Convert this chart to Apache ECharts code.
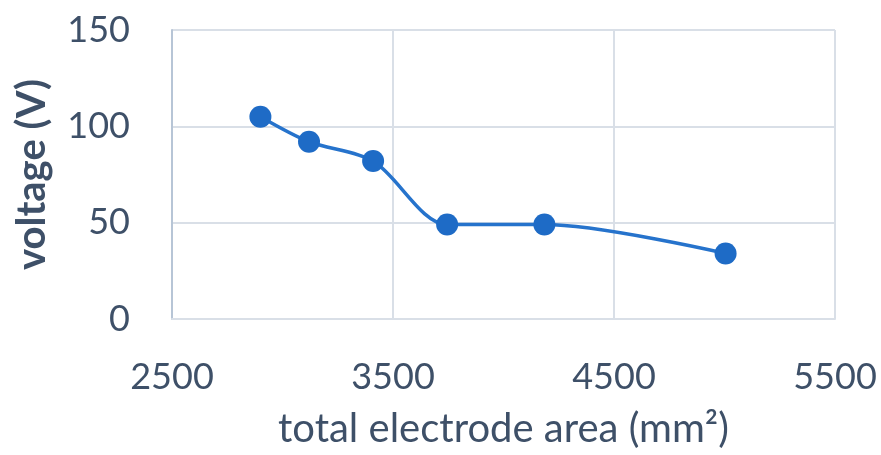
<!DOCTYPE html>
<html><head><meta charset="utf-8">
<script src="https://cdn.jsdelivr.net/npm/echarts@6/dist/echarts.min.js"></script>
<style>html,body{margin:0;padding:0;background:#fff}#c{width:881px;height:455px}</style>
</head><body><div id="c"></div>
<script>
const areas = [2900, 3120, 3410, 3745, 4185, 5005];
const voltages = [105, 92, 82, 49, 49, 34];
const xTicks = [2500, 3500, 4500, 5500];
const yTicks = [0, 50, 100, 150];
const data = areas.map((a, i) => [a, voltages[i]]);
const txt = '#3E5068';
const chart = echarts.init(document.getElementById('c'));
chart.setOption({
  animation: false,
  grid: {left: 172, right: 46, top: 30, bottom: 136},
  xAxis: {
    type: 'value', min: xTicks[0], max: xTicks[xTicks.length - 1], interval: 1000,
    name: 'total electrode area (mm²)', nameLocation: 'middle', nameGap: 90,
    nameTextStyle: {fontFamily: 'Lato', fontSize: 40, color: txt},
    axisLine: {show: true, lineStyle: {color: '#D9DFE7', width: 2}},
    axisTick: {show: false},
    axisLabel: {fontFamily: 'Lato', fontSize: 36, color: txt, margin: 40, formatter: v => String(v)},
    splitLine: {show: true, lineStyle: {color: '#D9DFE7', width: 2}}
  },
  yAxis: {
    type: 'value', min: yTicks[0], max: yTicks[yTicks.length - 1], interval: 50,
    name: 'voltage (V)', nameLocation: 'middle', nameGap: 120,
    nameTextStyle: {fontFamily: 'Lato', fontSize: 40, fontWeight: 'bold', color: txt},
    axisLine: {show: true, lineStyle: {color: '#B7C5D6', width: 2}},
    axisTick: {show: false},
    axisLabel: {fontFamily: 'Lato', fontSize: 36, color: txt, margin: 42, formatter: v => String(v)},
    splitLine: {show: true, lineStyle: {color: '#D9DFE7', width: 2}}
  },
  series: [{
    type: 'line', data: data, smooth: 0.3,
    symbol: 'circle', symbolSize: 22,
    lineStyle: {color: '#2673CC', width: 3.5},
    itemStyle: {color: '#1E6BC6'}
  }]
});
</script></body></html>
